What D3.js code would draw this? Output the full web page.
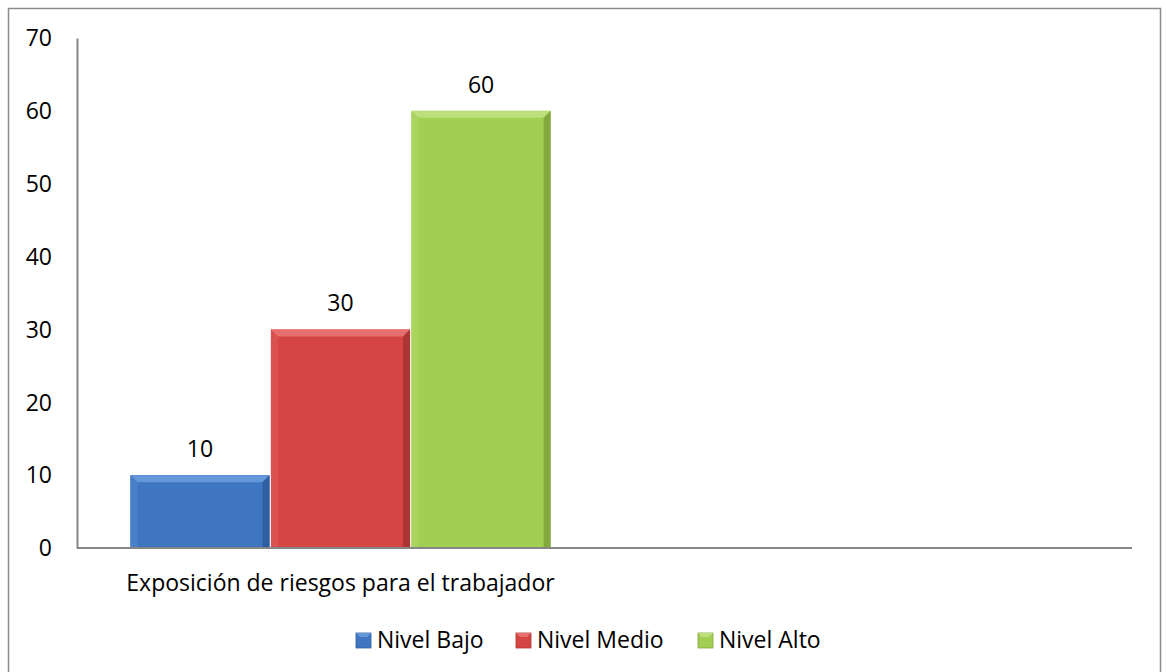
<!DOCTYPE html>
<html>
<head>
<meta charset="utf-8">
<script src="https://cdn.jsdelivr.net/npm/d3@7/dist/d3.min.js"></script>
<style>
  html, body { margin: 0; padding: 0; background: #fff; }
  svg { display: block; }
  text { font-family: "Open Sans", "Noto Sans", sans-serif; fill: #000; }
</style>
</head>
<body>
<svg id="chart" width="1166" height="672"></svg>
<script>
const categories = ["Exposición de riesgos para el trabajador", ""];
const seriesNames = ["Nivel Bajo", "Nivel Medio", "Nivel Alto"];
const seriesValues = [[10], [30], [60]];
const yTicks = [0, 10, 20, 30, 40, 50, 60, 70];

const palette = {
  "Nivel Bajo":  { main: "#3e76c2", light: "#6496da", dark: "#2f5f9e", side: "#4a80c8" },
  "Nivel Medio": { main: "#d54543", light: "#e7706e", dark: "#ad3533", side: "#da5250" },
  "Nivel Alto":  { main: "#a2ce53", light: "#bddf7c", dark: "#83a83e", side: "#abd45f" }
};

const svg = d3.select("#chart");
const font = 23;

// outer border
svg.append("rect").attr("x", 8.5).attr("y", 8.5).attr("width", 1152).attr("height", 680)
  .attr("fill", "#fff").attr("stroke", "#8c8c8c").attr("stroke-width", 1.5);

const x0 = d3.scaleBand().domain(categories).range([77, 1131]).paddingInner(0).paddingOuter(0);
const x1 = d3.scaleBand().domain(seriesNames).range([0, x0.bandwidth()]).paddingOuter(0.38).paddingInner(0.01);
const y = d3.scaleLinear().domain([0, 70]).range([548, 38]);

// y axis
const yAxis = d3.axisLeft(y).tickValues(yTicks).tickSize(0).tickPadding(25);
const gy = svg.append("g").attr("transform", "translate(77,0)").call(yAxis);
gy.select(".domain").attr("stroke", "#868686").attr("stroke-width", 2);
gy.selectAll("text").style("font-size", font + "px").attr("font-family", null).attr("dy", "0.34em");

// bars
const data = [];
seriesNames.forEach((s, i) => {
  seriesValues[i].forEach((v, j) => data.push({ series: s, category: categories[j], value: v }));
});

const bev = 7;
const bars = svg.append("g").selectAll("g.bar").data(data).join("g").attr("class", "bar");
bars.each(function(d) {
  const g = d3.select(this);
  const c = palette[d.series];
  const x = x0(d.category) + x1(d.series);
  const w = x1.bandwidth();
  const yt = y(d.value);
  const yb = y(0);
  const h = yb - yt;
  g.append("rect").attr("x", x).attr("y", yt).attr("width", w).attr("height", h).attr("fill", c.main);
  g.append("polygon").attr("points", [[x, yt], [x + w, yt], [x + w - bev, yt + bev], [x + bev, yt + bev]].join(" ")).attr("fill", c.light);
  g.append("polygon").attr("points", [[x, yt], [x + bev, yt + bev], [x + bev, yb], [x, yb]].join(" ")).attr("fill", c.side);
  g.append("polygon").attr("points", [[x + w, yt], [x + w - bev, yt + bev], [x + w - bev, yb], [x + w, yb]].join(" ")).attr("fill", c.dark);
  g.append("text").attr("x", x + w / 2).attr("y", yt - 18).attr("text-anchor", "middle")
    .style("font-size", font + "px").text(d.value);
});

// x axis
svg.append("line").attr("x1", 77).attr("x2", 1132).attr("y1", y(0)).attr("y2", y(0))
  .attr("stroke", "#868686").attr("stroke-width", 2);
svg.append("g").selectAll("text").data(categories.filter(c => c)).join("text")
  .attr("x", d => x0(d) + x0.bandwidth() / 2).attr("y", 591).attr("text-anchor", "middle")
  .style("font-size", font + "px").text(d => d);

// legend
const legendX = [356, 516, 698];
const lg = svg.append("g").selectAll("g").data(seriesNames).join("g")
  .attr("transform", (d, i) => `translate(${legendX[i]},633)`);
lg.append("rect").attr("width", 15).attr("height", 15).attr("fill", d => palette[d].main)
  .attr("stroke", d => palette[d].dark).attr("stroke-width", 0.8);
lg.append("polygon").attr("points", "0,0 15,0 11,4 4,4").attr("fill", d => palette[d].light);
lg.append("text").attr("x", 21).attr("y", 15).style("font-size", font + "px").text(d => d);
</script>
</body>
</html>
